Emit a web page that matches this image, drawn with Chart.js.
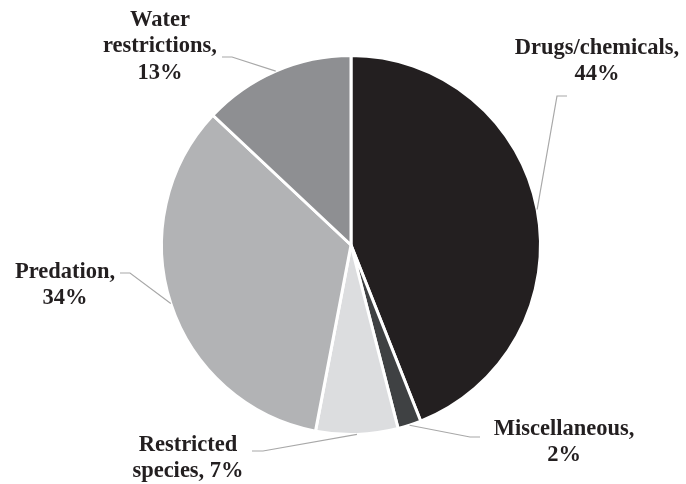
<!DOCTYPE html>
<html>
<head>
<meta charset="utf-8">
<script src="https://cdn.jsdelivr.net/npm/chart.js@4/dist/chart.umd.min.js"></script>
<style>
html,body{margin:0;padding:0;background:#fff;}
#wrap{width:686px;height:484px;position:relative;}
</style>
</head>
<body>
<div id="wrap"><canvas id="c" width="686" height="484"></canvas></div>
<script>
const categories = ['Drugs/chemicals', 'Miscellaneous', 'Restricted species', 'Predation', 'Water restrictions'];
const values = [44, 2, 7, 34, 13];
const sliceColors = ['#231f20', '#3f4143', '#dcdddf', '#b2b3b5', '#8e8f92'];
// label text lines for each slice ({v} = value)
const labelLines = [
  ['Drugs/chemicals,', '{v}%'],
  ['Miscellaneous,', '{v}%'],
  ['Restricted', 'species, {v}%'],
  ['Predation,', '{v}%'],
  ['Water', 'restrictions,', '{v}%']
];
// label placement (style): text center x, first line center y, elbow start/end
const labelPos = [
  {x: 597, y: 48, e1: [567, 96], e2: [557, 96]},
  {x: 564, y: 429, e1: [480, 437], e2: [470, 437]},
  {x: 188, y: 445, e1: [252, 451], e2: [263, 451]},
  {x: 65, y: 272, e1: [120, 273], e2: [130, 273]},
  {x: 160, y: 20, e1: [222, 57], e2: [232, 57]}
];

const labelPlugin = {
  id: 'leaderLabels',
  afterDatasetsDraw(chart) {
    const ctx = chart.ctx;
    const meta = chart.getDatasetMeta(0);
    ctx.save();
    meta.data.forEach((arc, i) => {
      const p = arc.getProps(['x', 'y', 'startAngle', 'endAngle', 'outerRadius'], true);
      const mid = (p.startAngle + p.endAngle) / 2;
      const ax = p.x + Math.cos(mid) * p.outerRadius;
      const ay = p.y + Math.sin(mid) * p.outerRadius;
      const lp = labelPos[i];
      ctx.strokeStyle = '#a8a8a8';
      ctx.lineWidth = 1.2;
      ctx.beginPath();
      ctx.moveTo(lp.e1[0], lp.e1[1]);
      ctx.lineTo(lp.e2[0], lp.e2[1]);
      ctx.lineTo(ax, ay);
      ctx.stroke();
      ctx.fillStyle = '#231f20';
      ctx.font = 'bold 22.5px "Liberation Serif", "Times New Roman", serif';
      ctx.textAlign = 'center';
      ctx.textBaseline = 'middle';
      labelLines[i].forEach((t, k) => {
        ctx.fillText(t.replace('{v}', values[i]), lp.x, lp.y + k * 26.5);
      });
    });
    ctx.restore();
  }
};

new Chart(document.getElementById('c'), {
  type: 'pie',
  data: {
    labels: categories,
    datasets: [{
      data: values,
      backgroundColor: sliceColors,
      borderColor: '#ffffff',
      borderWidth: 3
    }]
  },
  options: {
    responsive: false,
    animation: false,
    layout: {padding: {left: 160, right: 144, top: 54, bottom: 48}},
    plugins: {legend: {display: false}, tooltip: {enabled: false}}
  },
  plugins: [labelPlugin]
});
</script>
</body>
</html>
